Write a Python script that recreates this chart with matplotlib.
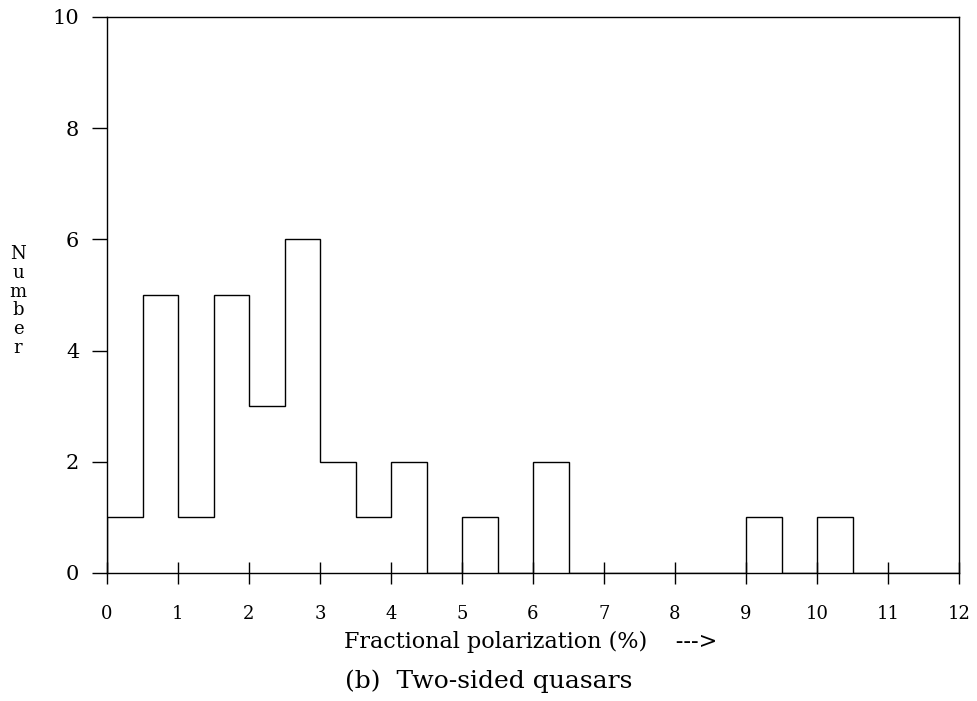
import matplotlib
matplotlib.use("Agg")
import matplotlib.pyplot as plt
import numpy as np

# histogram of fractional polarization, bins of 0.5 %
bin_edges = [0.0, 0.5, 1.0, 1.5, 2.0, 2.5, 3.0, 3.5, 4.0, 4.5, 5.0, 5.5, 6.0,
             6.5, 7.0, 7.5, 8.0, 8.5, 9.0, 9.5, 10.0, 10.5, 11.0, 11.5, 12.0]
counts = [1, 5, 1, 5, 3, 6, 2, 1, 2, 0, 1, 0, 2,
          0, 0, 0, 0, 0, 1, 0, 1, 0, 0, 0]
x_ticks = list(range(0, 13))
y_ticks = [0, 2, 4, 6, 8, 10]

plt.rcParams['font.family'] = ['DejaVu Serif']

fig = plt.figure(figsize=(9.77, 7.01), dpi=100)
ax = fig.add_axes([107/977, 1 - 573/701, (959-107)/977, (573-17)/701])

ax.stairs(counts, bin_edges, color='black', linewidth=1.0)

ax.set_xlim(0, 12)
ax.set_ylim(0, 10)
ax.set_xticks(x_ticks)
ax.set_yticks(y_ticks)
ax.tick_params(axis='x', direction='inout', length=16, width=1, pad=15, labelsize=13)
ax.tick_params(axis='y', direction='out', length=11, width=1, pad=9, labelsize=15)
for s in ax.spines.values():
    s.set_linewidth(1.0)

fig.text(18/977, 1 - 301/701, "N\nu\nm\nb\ne\nr", ha='center', va='center',
         fontsize=13, linespacing=1.05)
fig.text(531/977, 1 - 642/701, "Fractional polarization (%)    --->", ha='center', va='center',
         fontsize=16)
fig.text(489/977, 1 - 681/701, "(b)  Two-sided quasars", ha='center', va='center',
         fontsize=18)

fig.savefig("out.png", dpi=100)
